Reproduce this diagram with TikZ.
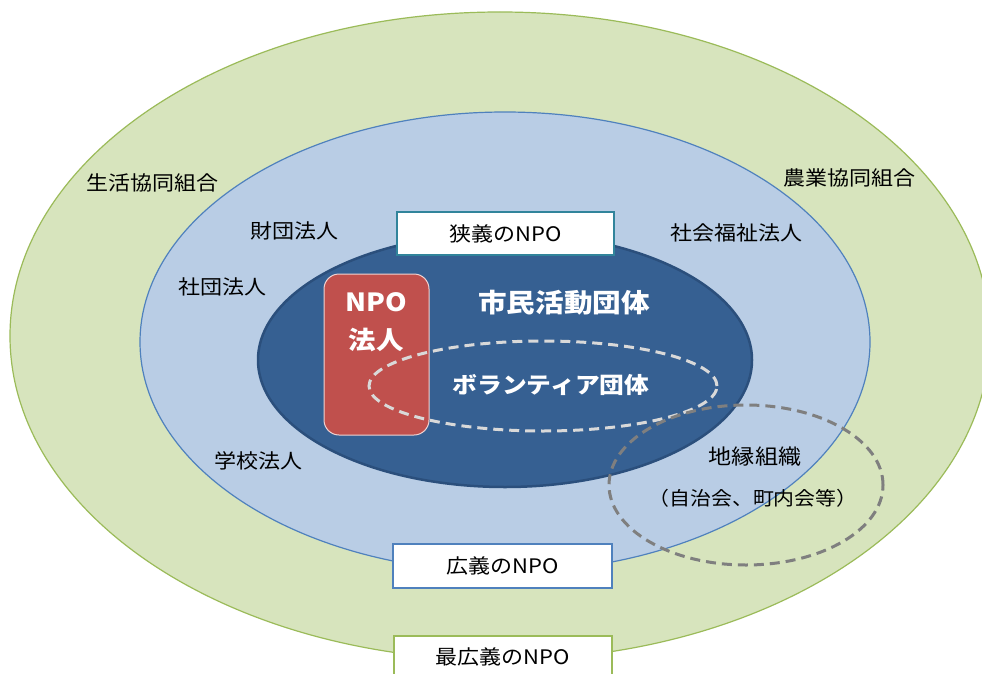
\documentclass[tikz,border=0pt]{standalone}
\usepackage{fontspec}
\newfontfamily\jp[FakeStretch=1.1]{Noto Sans CJK JP}
\definecolor{greenfill}{HTML}{D7E4BD}
\definecolor{greenline}{HTML}{9BBB59}
\definecolor{lbfill}{HTML}{B9CDE5}
\definecolor{lbline}{HTML}{4F81BD}
\definecolor{dbfill}{HTML}{366092}
\definecolor{dbline}{HTML}{2B4F7C}
\definecolor{redfill}{HTML}{C0504D}
\definecolor{tealline}{HTML}{31849B}
\definecolor{dashwhite}{HTML}{D9D9D9}
\definecolor{dashgray}{HTML}{7F7F7F}
\begin{document}
\begin{tikzpicture}[x=1pt,y=-1pt,
 lbl/.style={font=\jp\fontsize{20}{23}\selectfont, text=black, inner sep=0pt},
 wlbl/.style={font=\jp\bfseries\fontsize{25}{30}\selectfont, text=white, inner sep=0pt},
 tagbox/.style={line width=1.5pt, fill=white, inner sep=0pt},
 dashring/.style={line width=3pt, dash pattern=on 10pt off 6pt}]
\useasboundingbox (0,0) rectangle (982,674);
\fill[white] (0,0) rectangle (982,674);
% rings
\filldraw[fill=greenfill, draw=greenline, line width=1.2pt] (500,336) ellipse [x radius=490pt, y radius=324pt];
\filldraw[fill=lbfill, draw=lbline, line width=1.2pt] (505,342) ellipse [x radius=365pt, y radius=230pt];
\filldraw[fill=dbfill, draw=dbline, line width=2.5pt] (505,360) ellipse [x radius=247pt, y radius=127pt];
% NPO corporation box
\node[draw=white!75!redfill, fill=redfill, line width=1pt, rounded corners=15pt,
      minimum width=105pt, minimum height=161pt, inner sep=0pt] (npobox) at (376.5,354.5) {};
\node[wlbl] (npo) at (376,302) {NPO};
\node[wlbl] (hojin) at (376,340) {法人};
% volunteer ellipse
\draw[dashring, draw=dashwhite] (543,386) ellipse [x radius=174pt, y radius=45pt];
\node[wlbl, font=\jp\bfseries\fontsize{22.5}{27}\selectfont] (vol) at (551,385) {ボランティア団体};
\node[wlbl, font=\jp\bfseries\fontsize{26}{30}\selectfont] (shimin) at (564,303) {市民活動団体};
% territorial ellipse
\draw[dashring, draw=dashgray] (746,485) ellipse [x radius=137pt, y radius=80pt];
% boxes
\node[tagbox, draw=tealline, minimum width=217pt, minimum height=43pt, lbl] (narrow) at (505.5,233.5) {狭義のNPO};
\node[tagbox, draw=lbline, minimum width=219pt, minimum height=44pt, lbl] (broad) at (502.5,566) {広義のNPO};
\node[tagbox, draw=greenline, minimum width=218pt, minimum height=60pt] (broadest) at (503,666) {};
\node[lbl] (broadestt) at (503,657) {最広義のNPO};
% labels
\node[lbl] (seikatsu) at (152,183) {生活協同組合};
\node[lbl] (nogyo) at (849,178) {農業協同組合};
\node[lbl] (zaidan) at (294,231) {財団法人};
\node[lbl] (shakai) at (736,233) {社会福祉法人};
\node[lbl] (shadan) at (222,287) {社団法人};
\node[lbl] (gakko) at (258,461) {学校法人};
\node[lbl, font=\jp\fontsize{21}{24}\selectfont] (chien) at (755,457) {地縁組織};
\node[lbl, font=\jp\fontsize{19}{23}\selectfont] (jichi) at (753,498) {（自治会、町内会等）};
\end{tikzpicture}
\end{document}
